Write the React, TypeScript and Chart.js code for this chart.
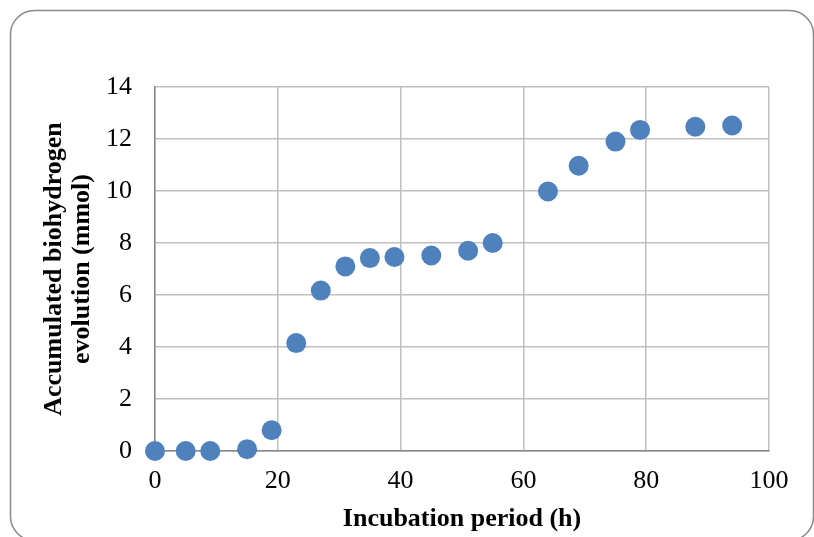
import React, { useEffect, useRef } from "react";
import { Chart, registerables } from "chart.js";

Chart.register(...registerables);

// Data
const incubationHours = [0, 5, 9, 15, 19, 23, 27, 31, 35, 39, 45, 51, 55, 64, 69, 75, 79, 88, 94];
const hydrogenMmol = [0, 0, 0, 0.07, 0.8, 4.15, 6.17, 7.1, 7.42, 7.46, 7.52, 7.7, 8.0, 9.98, 10.97, 11.9, 12.35, 12.47, 12.52];

const xTitle = "Incubation period (h)";
const yTitleLines = ["Accumulated biohydrogen", "evolution (mmol)"];
const xMin = 0, xMax = 100, xStep = 20;
const yMin = 0, yMax = 14, yStep = 2;

const SERIF = "'Liberation Serif', 'Times New Roman', serif";

const framePlugin = {
  id: "frame",
  beforeDraw(chart: any) {
    const ctx = chart.ctx;
    ctx.save();
    ctx.fillStyle = "#ffffff";
    ctx.fillRect(0, 0, chart.width, chart.height);
    ctx.strokeStyle = "#8a8a8a";
    ctx.lineWidth = 1.5;
    ctx.beginPath();
    ctx.roundRect(10.5, 10.5, 803, 530, 24);
    ctx.stroke();
    ctx.restore();
  },
};

export default function App() {
  const ref = useRef<HTMLCanvasElement | null>(null);

  useEffect(() => {
    if (!ref.current) return;
    const points = incubationHours.map((x, i) => ({ x, y: hydrogenMmol[i] }));
    const chart = new Chart(ref.current, {
      type: "scatter",
      data: {
        datasets: [
          {
            label: "H2",
            data: points,
            backgroundColor: "#4f81bd",
            borderColor: "#4f81bd",
            borderWidth: 0,
            pointRadius: 10,
            pointHoverRadius: 10,
            clip: false as any,
          },
        ],
      },
      options: {
        animation: false,
        responsive: false,
        events: [],
        layout: { padding: { top: 87, right: 45, left: 0, bottom: 0 } },
        plugins: { legend: { display: false }, tooltip: { enabled: false } },
        scales: {
          x: {
            type: "linear",
            min: xMin,
            max: xMax,
            afterFit(scale: any) {
              scale.height = 86;
            },
            ticks: {
              stepSize: xStep,
              padding: 15,
              color: "#000",
              font: { family: SERIF, size: 26 },
              maxRotation: 0,
            },
            grid: { color: "#c0c0c0", lineWidth: 1.5, drawTicks: false },
            border: { color: "#868686", width: 1.5 },
            title: {
              display: true,
              text: xTitle,
              color: "#000",
              font: { family: SERIF, size: 26, weight: "bold", lineHeight: 1.05 },
              padding: { top: 0, bottom: 4 },
            },
          },
          y: {
            type: "linear",
            min: yMin,
            max: yMax,
            afterFit(scale: any) {
              scale.width = 155;
            },
            ticks: {
              stepSize: yStep,
              padding: 23,
              color: "#000",
              font: { family: SERIF, size: 26 },
            },
            grid: { color: "#c0c0c0", lineWidth: 1.5, drawTicks: false },
            border: { color: "#868686", width: 1.5 },
            title: {
              display: true,
              text: yTitleLines,
              color: "#000",
              font: { family: SERIF, size: 26, weight: "bold", lineHeight: 1.05 },
              padding: { top: 41, bottom: 0 },
            },
          },
        },
      },
      plugins: [framePlugin],
    });
    return () => chart.destroy();
  }, []);

  return (
    <div style={{ position: "fixed", left: 0, top: 0, width: 814, height: 537 }}>
      <canvas ref={ref} width={814} height={537} style={{ display: "block", width: 814, height: 537 }} />
    </div>
  );
}
